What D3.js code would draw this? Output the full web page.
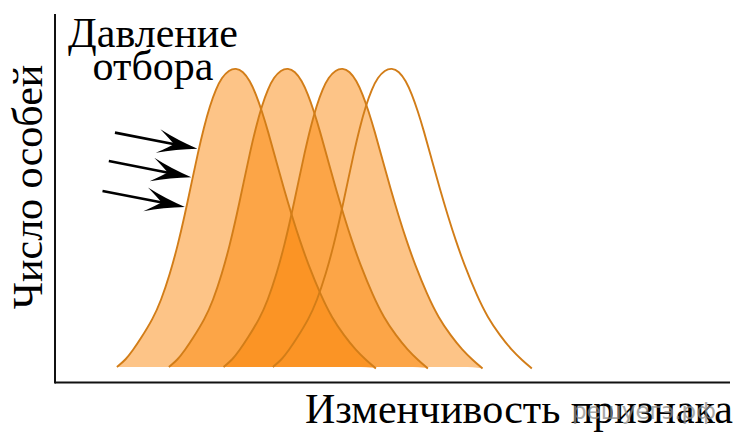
<!DOCTYPE html>
<html>
<head>
<meta charset="utf-8">
<script src="https://cdn.jsdelivr.net/npm/d3@7"></script>
<style>
  html, body { margin: 0; padding: 0; background: #fff; }
  svg { display: block; }
</style>
</head>
<body>
<svg id="chart" width="743" height="445"></svg>
<script>
// ---- data ----
// shape of one distribution: offset from its peak (trait units) and number of individuals (% of max)
const profileOffsets = [-17.63, -16.30, -15.26, -14.07, -12.30, -11.11, -9.78, -8.59, -7.56, -6.52,
                        -5.63, -4.74, -3.85, -2.96, -2.07, -1.04, 0,
                        1.04, 2.07, 2.96, 3.85, 4.74, 5.93, 7.11, 8.30, 9.48, 10.67,
                        12.59, 14.22, 16.0, 17.78, 19.26, 20.74];
const profileCounts  = [0, 2.5, 5.6, 9.6, 16.1, 22.1, 31.0, 40.9, 51.0, 62.1,
                        71.6, 80.2, 87.4, 93.0, 96.9, 99.3, 100,
                        98.95, 95.8, 91.3, 85.6, 79.0, 69.2, 59.6, 50.6, 42.2, 34.6,
                        23.9, 16.5, 10.6, 5.6, 2.4, -0.5];
// peaks of successive generations (trait value)
const peaks = [26.8, 34.5, 42.6, 49.9];
const filled = [true, true, true, false];
// arrows of selection pressure: height on the first curve where they hit
const arrowCounts = [73, 63.5, 53.5];
const titleLines = ["Давление", "отбора"];
const yLabel = "Число особей";
const xLabel = "Изменчивость признака";
const watermark = "решуегэ.рф";

// ---- layout ----
const serif = "'Liberation Serif', 'Times New Roman', 'DejaVu Serif', serif";
const axisX = 55, axisY = 382.5, axisTop = 14, axisRight = 730;
const x = d3.scaleLinear().domain([0, 100]).range([axisX, axisRight]);
const y = d3.scaleLinear().domain([0, 100]).range([367, 68]);

const svg = d3.select("#chart");

const profile = profileOffsets.map((d, i) => ({ dx: d, c: profileCounts[i] }));
const series = peaks.map((p, k) => ({
  peak: p, filled: filled[k],
  pts: profile.map(d => ({ t: p + d.dx, c: d.c }))
}));

const curve = d3.curveBasis;
const area = d3.area().x(d => x(d.t)).y0(d => y(Math.min(0, d.c))).y1(d => y(d.c)).curve(curve);
const line = d3.line().x(d => x(d.t)).y(d => y(d.c)).curve(curve);

// fills
svg.append("g").selectAll("path")
  .data(series.filter(s => s.filled))
  .join("path")
  .attr("d", s => area(s.pts))
  .attr("fill", "rgb(250,130,0)")
  .attr("fill-opacity", 0.47);

// outlines
svg.append("g").selectAll("path")
  .data(series)
  .join("path")
  .attr("d", s => line(s.pts))
  .attr("fill", "none")
  .attr("stroke", "#d27d18")
  .attr("stroke-width", 1.9);

// axes
svg.append("line").attr("x1", axisX).attr("x2", axisX).attr("y1", axisTop).attr("y2", axisY + 1)
  .attr("stroke", "#111").attr("stroke-width", 2);
svg.append("line").attr("x1", axisX).attr("x2", axisRight).attr("y1", axisY).attr("y2", axisY)
  .attr("stroke", "#111").attr("stroke-width", 2);

// arrows: tip located on left flank of first curve
const left = profile.filter(d => d.dx <= 0);
function leftX(c) {
  for (let i = 0; i < left.length - 1; i++) {
    const a = left[i], b = left[i + 1];
    if (c >= a.c && c <= b.c) {
      const f = (c - a.c) / (b.c - a.c);
      return series[0].peak + a.dx + f * (b.dx - a.dx);
    }
  }
  return series[0].peak;
}
const ag = svg.append("g");
arrowCounts.forEach(c => {
  const tx = x(leftX(c)) - 1.5, ty = y(c);
  const ang = Math.atan2(16, 82);
  const g = ag.append("g").attr("transform", `translate(${tx},${ty}) rotate(${ang * 180 / Math.PI})`);
  g.append("line").attr("x1", -84).attr("y1", 0).attr("x2", -22).attr("y2", 0)
    .attr("stroke", "#000").attr("stroke-width", 2.6);
  g.append("path")
    .attr("d", "M0,0 Q-21,-4.5 -40,-12 Q-28,-3.5 -24,0 Q-28,3.5 -40,12 Q-21,4.5 0,0 Z")
    .attr("fill", "#000");
});

// texts
const tt = svg.append("text").attr("text-anchor", "middle").attr("font-size", 42)
  .style("font-family", serif).style("fill", "#000");
titleLines.forEach((t, i) => tt.append("tspan").attr("x", 153).attr("y", 47 + i * 33).text(t));

svg.append("text").attr("font-size", 42).attr("text-anchor", "middle")
  .style("font-family", serif).style("fill", "#000")
  .attr("transform", "translate(42,187) rotate(-90)").text(yLabel);

svg.append("text").attr("font-size", 42).attr("x", 305).attr("y", 423)
  .style("font-family", serif).style("fill", "#000").text(xLabel);

svg.append("text").attr("x", 572).attr("y", 419).attr("font-size", 23)
  .style("font-family", "'DejaVu Sans', sans-serif").style("fill", "#8c8c8c")
  .attr("opacity", 0.75).text(watermark);
</script>
</body>
</html>
